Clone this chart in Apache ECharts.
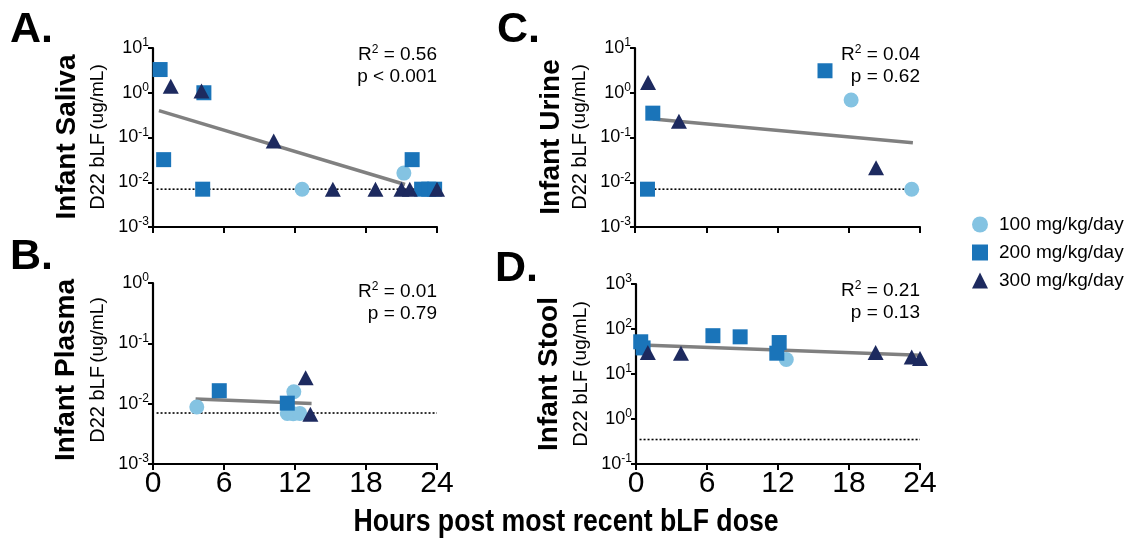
<!DOCTYPE html>
<html><head><meta charset="utf-8">
<script src="https://cdn.jsdelivr.net/npm/echarts@6/dist/echarts.min.js"></script>
<style>html,body{margin:0;padding:0;background:#fff}#c{width:1133px;height:542px}</style>
</head><body><div id="c"></div>
<script>
// ---- data ----
const xTicks = [0, 6, 12, 18, 24];
const doseNames = ['100 mg/kg/day', '200 mg/kg/day', '300 mg/kg/day'];
const panelLetters = ['A.', 'B.', 'C.', 'D.'];
const panelTitles = ['Infant Saliva', 'Infant Plasma', 'Infant Urine', 'Infant Stool'];
const yUnit = 'D22 bLF';
const yUnit2 = '(ug/mL)';
const statsR2 = ['0.56', '0.01', '0.04', '0.21'];
const statsP = ['p < 0.001', 'p = 0.79', 'p = 0.62', 'p = 0.13'];
const yMin = [0.001, 0.001, 0.001, 0.1];
const yMax = [10, 1, 10, 1000];

// Panel A: saliva
const salivaD100 = [[12.6, 0.007], [21.2, 0.016]];
const salivaD200 = [[0.6, 3.3], [0.9, 0.032], [4.3, 1.0], [4.2, 0.007], [21.9, 0.032], [22.7, 0.007], [23.3, 0.007], [23.8, 0.007]];
const salivaD300 = [[1.5, 1.4], [4.1, 1.1], [10.2, 0.083], [15.2, 0.007], [18.8, 0.007], [21.0, 0.007], [21.7, 0.007], [24.0, 0.007]];
const salivaFit = [[0.5, 0.40], [21.3, 0.0089]];
const salivaLOD = [[0.3, 0.007], [24.3, 0.007]];

// Panel B: plasma
const plasmaD100 = [[3.7, 0.0088], [11.9, 0.0158], [11.35, 0.0069], [11.85, 0.0068], [12.4, 0.0069]];
const plasmaD200 = [[5.6, 0.0164], [11.35, 0.0102]];
const plasmaD300 = [[12.9, 0.027], [13.3, 0.0067]];
const plasmaFit = [[3.6, 0.0119], [13.4, 0.0101]];
const plasmaLOD = [[0.3, 0.007], [24, 0.007]];

// Panel C: urine
const urineD100 = [[18.2, 0.69], [23.3, 0.007]];
const urineD200 = [[1.5, 0.35], [1.05, 0.007], [16.0, 3.1]];
const urineD300 = [[1.1, 1.7], [3.7, 0.23], [20.3, 0.021]];
const urineFit = [[1.5, 0.26], [23.4, 0.076]];
const urineLOD = [[1.3, 0.007], [23.3, 0.007]];

// Panel D: stool
const stoolD100 = [[12.7, 21]];
const stoolD200 = [[0.4, 52], [0.6, 38], [6.5, 71], [8.8, 67], [12.1, 50], [11.9, 29]];
const stoolD300 = [[1.0, 30], [3.8, 29], [20.25, 30], [23.3, 24], [24.0, 22]];
const stoolFit = [[0.5, 44], [24, 26]];
const stoolLOD = [[0.3, 0.35], [24, 0.35]];

const panelData = [
  [salivaD100, salivaD200, salivaD300, salivaFit, salivaLOD],
  [plasmaD100, plasmaD200, plasmaD300, plasmaFit, plasmaLOD],
  [urineD100, urineD200, urineD300, urineFit, urineLOD],
  [stoolD100, stoolD200, stoolD300, stoolFit, stoolLOD]
];

// ---- style ----
const FF = '"Liberation Sans", Arial, Helvetica, sans-serif';
const colors = ['#84c3e2', '#1a74b9', '#1d2a5f'];
const symbols = ['circle', 'rect', 'triangle'];
const grids = [
  { left: 153, top: 48, width: 284, height: 179 },
  { left: 153, top: 283, width: 284, height: 181 },
  { left: 635, top: 48, width: 285, height: 179 },
  { left: 636, top: 284, width: 284, height: 180 }
];
const showXLabels = [false, true, false, true];

const xAxes = grids.map((g, i) => ({
  type: 'value', gridIndex: i, min: xTicks[0], max: xTicks[xTicks.length - 1], interval: xTicks[1] - xTicks[0],
  axisLine: { show: true, onZero: false, lineStyle: { color: '#000', width: 2.2 } },
  axisTick: { show: true, length: 6, lineStyle: { color: '#000', width: 2 } },
  axisLabel: { show: showXLabels[i], fontSize: 30, color: '#000', fontFamily: FF, margin: 5 },
  splitLine: { show: false }
}));

const yAxes = grids.map((g, i) => ({
  type: 'log', logBase: 10, gridIndex: i, min: yMin[i], max: yMax[i], interval: 1,
  axisLine: { show: true, onZero: false, lineStyle: { color: '#000', width: 2.2 } },
  axisTick: { show: true, length: 5, lineStyle: { color: '#000', width: 2 } },
  minorTick: { show: false },
  splitLine: { show: false },
  axisLabel: {
    margin: 4, color: '#000',
    formatter: v => '{b|10}{s|' + Math.round(Math.log10(v)) + '}',
    rich: {
      b: { fontSize: 18, fontFamily: FF, color: '#000', lineHeight: 22 },
      s: { fontSize: 12, fontFamily: FF, color: '#000', verticalAlign: 'top', lineHeight: 12 }
    }
  }
}));

const series = [];
panelData.forEach((pd, i) => {
  series.push({
    type: 'line', xAxisIndex: i, yAxisIndex: i, data: pd[4], showSymbol: false, symbol: 'none',
    lineStyle: { color: '#000', width: 1.6, type: [2, 2] }, silent: true, z: 1, clip: false
  });
  series.push({
    type: 'line', xAxisIndex: i, yAxisIndex: i, data: pd[3], showSymbol: false, symbol: 'none',
    lineStyle: { color: '#808080', width: 3.5 }, silent: true, z: 2
  });
  [0, 1, 2].forEach(k => {
    series.push({
      name: doseNames[k], type: 'scatter', xAxisIndex: i, yAxisIndex: i, data: pd[k],
      symbol: symbols[k], symbolSize: k === 2 ? [16, 15] : 15,
      itemStyle: { color: colors[k], opacity: 1 }, z: 3 + k
    });
  });
});

const graphic = [];
const letterPos = [[10, 30], [10, 257], [497, 30], [495, 269]];
panelLetters.forEach((t, i) => graphic.push({
  type: 'text', x: letterPos[i][0], y: letterPos[i][1],
  style: { text: t, font: 'bold 43px ' + FF, fill: '#000', align: 'left', verticalAlign: 'middle' }
}));
const titlePos = [[67, 137], [66, 370], [551, 137], [549, 374]];
const unitPos = [[98, 137], [98, 370], [580, 137], [581, 374]];
panelTitles.forEach((t, i) => {
  graphic.push({
    type: 'text', x: titlePos[i][0], y: titlePos[i][1], rotation: Math.PI / 2,
    style: { text: t, font: 'bold 28px ' + FF, fill: '#000', align: 'center', verticalAlign: 'middle' }
  });
  graphic.push({
    type: 'text', x: unitPos[i][0], y: unitPos[i][1], rotation: Math.PI / 2,
    style: {
      text: '{a|' + yUnit + '} {c|' + yUnit2 + '}', align: 'center', verticalAlign: 'middle',
      rich: { a: { fontSize: 20, fontFamily: FF, color: '#000' }, c: { fontSize: 19, fontFamily: FF, color: '#000' } }
    }
  });
});
const statX = [437, 437, 920, 920];
const statY = [55, 292, 55, 291];
statsR2.forEach((r, i) => {
  graphic.push({
    type: 'text', x: statX[i], y: statY[i],
    style: {
      text: '{a|R}{s|2}{a| = ' + r + '}', align: 'right', verticalAlign: 'middle',
      rich: { a: { fontSize: 19, fontFamily: FF, color: '#000', lineHeight: 22 }, s: { fontSize: 12, fontFamily: FF, color: '#000', verticalAlign: 'top', lineHeight: 12 } }
    }
  });
  graphic.push({
    type: 'text', x: statX[i], y: statY[i] + 22,
    style: { text: statsP[i], font: '19px ' + FF, fill: '#000', align: 'right', verticalAlign: 'middle' }
  });
});
graphic.push({
  type: 'text', x: 566, y: 522, scaleX: 0.86,
  style: { text: 'Hours post most recent bLF dose', font: 'bold 31px ' + FF, fill: '#000', align: 'center', verticalAlign: 'middle' }
});

const chart = echarts.init(document.getElementById('c'), null, { renderer: 'canvas' });
chart.setOption({
  animation: false,
  backgroundColor: '#fff',
  grid: grids.map(g => Object.assign({ containLabel: false }, g)),
  xAxis: xAxes,
  yAxis: yAxes,
  legend: {
    orient: 'vertical', left: 967, top: 210, itemGap: 9, itemWidth: 16, itemHeight: 16,
    data: doseNames.map((n, k) => ({ name: n, icon: symbols[k] })),
    textStyle: { fontSize: 19, fontFamily: FF, color: '#000', lineHeight: 18, padding: [0, 0, 0, 6] },
    selectedMode: false
  },
  series: series,
  graphic: graphic
});
</script>
</body></html>
